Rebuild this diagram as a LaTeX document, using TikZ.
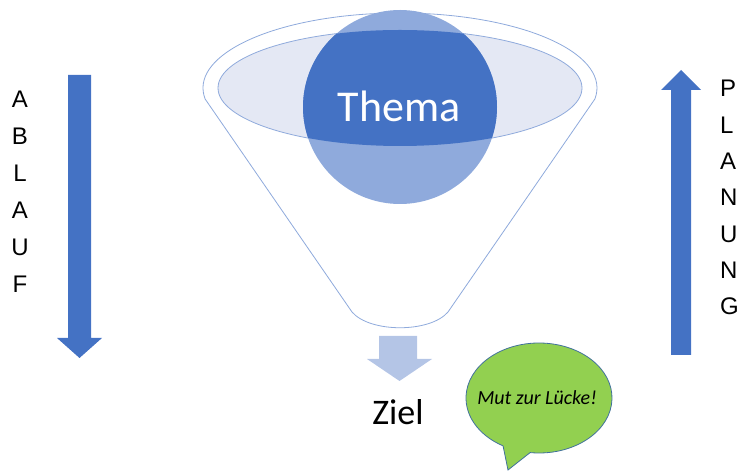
\documentclass[tikz,border=0pt]{standalone}
\usepackage{fontspec}
\usetikzlibrary{calc}
\setmainfont{Carlito}
\newfontfamily\letterfont{Liberation Sans}
\definecolor{mainblue}{HTML}{4472C4}
\definecolor{lightblue}{HTML}{8FAADC}
\definecolor{paleblue}{HTML}{B4C5E6}
\definecolor{lavender}{HTML}{E4E8F4}
\definecolor{bubblegreen}{HTML}{92D050}
\definecolor{bubbleline}{HTML}{41719C}
\begin{document}
\begin{tikzpicture}[x=1pt,y=1pt,
  funnelline/.style={draw=lightblue, line width=0.8pt},
  bigarrow/.style={fill=mainblue, draw=none},
  letter/.style={font=\letterfont\fontsize{24}{24}\selectfont, inner sep=0pt, text=black}]
\useasboundingbox (0,0) rectangle (739,471);
% funnel outline
\path[funnelline, fill=white] ($(400,383)+(188.5:197 and 75)$) coordinate (fl)
  arc[start angle=188.5, end angle=-8.5, x radius=197, y radius=75] coordinate (fr)
  -- (448,159) .. controls (430,138) and (370,138) .. (352,159) -- cycle;
% inner ellipse
\path[funnelline, fill=lavender] (400,383) ellipse[x radius=182, y radius=58];
% circle
\fill[lightblue] (400,364) circle[radius=97];
\begin{scope}
  \clip (400,383) ellipse[x radius=182, y radius=58];
  \fill[mainblue] (400,364) circle[radius=97];
\end{scope}
\node[text=white, font=\fontsize{44}{44}\selectfont, inner sep=0pt] (thema) at (399,365) {Thema};
% small arrow
\fill[paleblue] (379,135) -- (417,135) -- (417,112) -- (432,112) -- (399.5,90) -- (367,112) -- (379,112) -- cycle;
\node[font=\fontsize{36}{36}\selectfont, inner sep=0pt] (ziel) at (398,59) {Ziel};
% speech bubble
\path[draw=bubbleline, line width=0.8pt, fill=bubblegreen]
  ($(539,73)+(263:73 and 55)$)
  arc[start angle=263, end angle=600.5, x radius=73, y radius=55]
  -- (508,1) -- cycle;
\node[font=\itshape\fontsize{20}{20}\selectfont, inner sep=0pt] (mut) at (537,73) {Mut zur Lücke!};
% left arrow
\fill[bigarrow] (68,396) -- (91,396) -- (91,133) -- (102,133) -- (79.5,113) -- (57,133) -- (68,133) -- cycle;
% right arrow
\fill[bigarrow] (671,116) -- (691,116) -- (691,381) -- (701,381) -- (681,401) -- (661,381) -- (671,381) -- cycle;
% letters
\foreach \c [count=\i from 0] in {A,B,L,A,U,F}
  \node[letter, anchor=base] (ab\i) at (20,363-37*\i) {\c};
\foreach \c [count=\i from 0] in {P,L,A,N,U,N,G}
  \node[letter, anchor=base west] (pl\i) at (720,374-36.3*\i) {\c};
\end{tikzpicture}
\end{document}
